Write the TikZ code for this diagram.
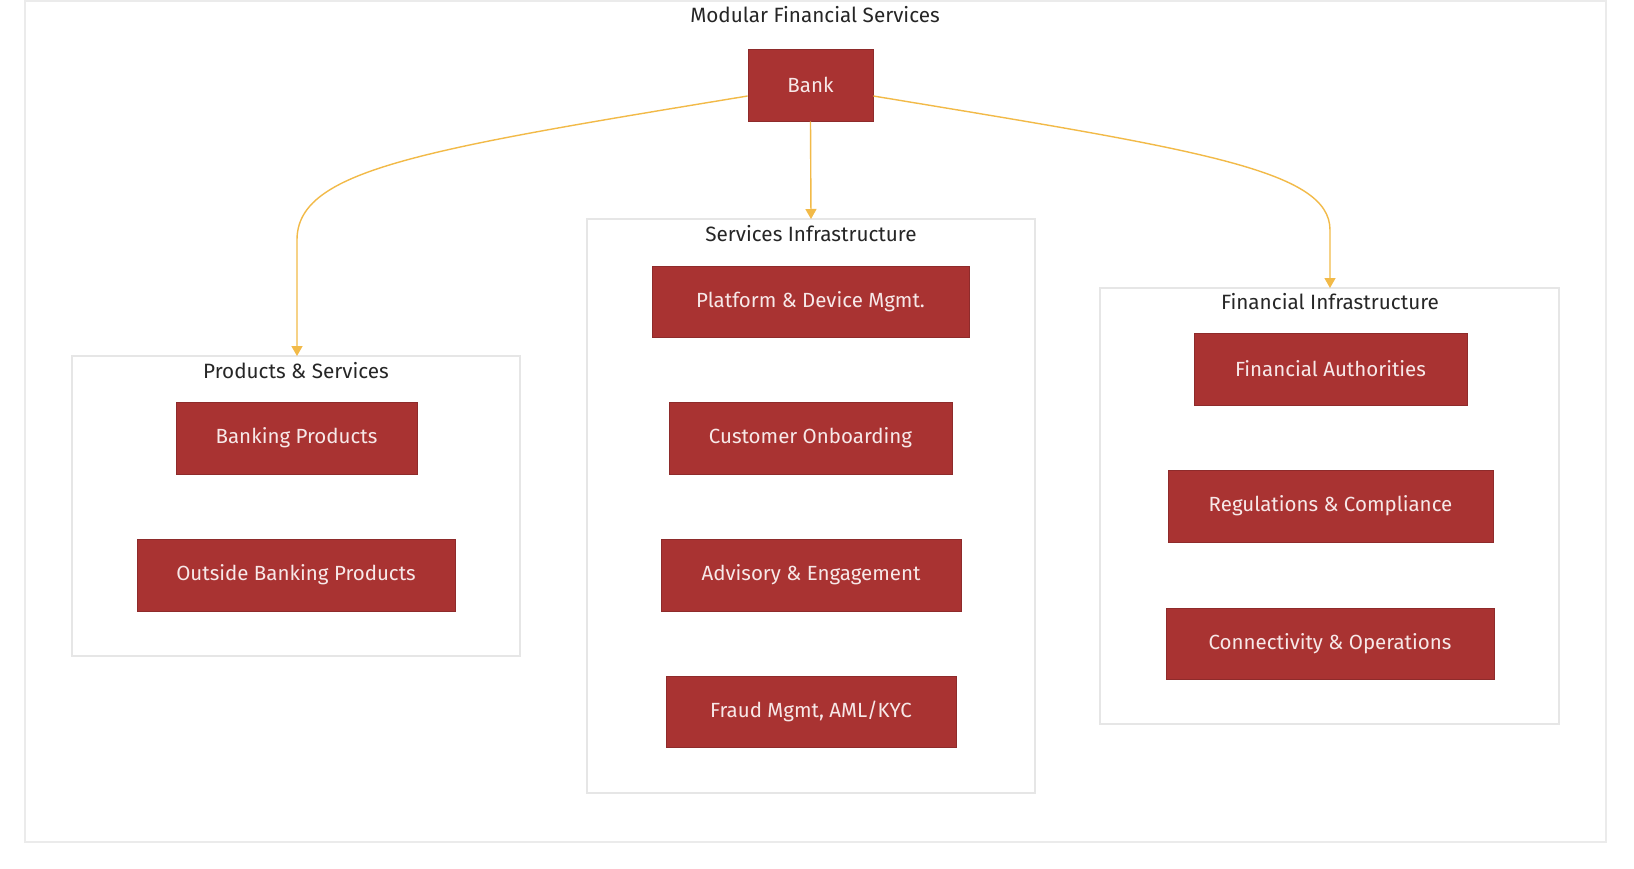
\documentclass[tikz,border=0pt]{standalone}
\usepackage{fontspec}
\setmainfont{Fira Sans}
\usetikzlibrary{arrows.meta}
\definecolor{boxfill}{HTML}{A93332}
\definecolor{boxline}{HTML}{8E2B2B}
\definecolor{boxtext}{HTML}{F7E8E8}
\definecolor{edgecol}{HTML}{F2BA48}
\definecolor{clusterline}{HTML}{E6E6E6}
\tikzset{
  box/.style={draw=boxline, line width=0.8pt, fill=boxfill, text=boxtext, inner sep=0pt,
    font=\fontsize{20.5}{24}\selectfont},
  ctitle/.style={font=\fontsize{20.7}{24}\selectfont, text=black!85, inner sep=0pt},
  cluster/.style={draw=clusterline, line width=1.2pt},
  edge/.style={draw=edgecol, line width=1.4pt, -{Triangle[length=10pt,width=11pt]}}
}
\begin{document}
\begin{tikzpicture}[x=1pt,y=-1pt]
\useasboundingbox (0,0) rectangle (1634,868);
\fill[white] (0,0) rectangle (1634,868);
% outer frame
\draw[draw=black!8, line width=1.5pt] (25,1) rectangle (1606,842);
\node[ctitle] (title) at (815,15) {Modular Financial Services};
% clusters
\draw[cluster] (587,219) rectangle (1035,793);
\draw[cluster] (72,356) rectangle (520,656);
\draw[cluster] (1100,288) rectangle (1559,724);
\node[ctitle] (svctitle) at (811,234) {Services Infrastructure};
\node[ctitle] (prodtitle) at (296,371) {Products \& Services};
\node[ctitle] (fintitle) at (1330,302) {Financial Infrastructure};
\coordinate (svctop) at (811,219);
\coordinate (prodtop) at (297,356);
\coordinate (fintop) at (1330,288);
% nodes
\node[box, minimum width=125, minimum height=72] (bank) at (810.5,85) {Bank};
\node[box, minimum width=317, minimum height=71] (platform) at (810.5,301.5) {Platform \& Device Mgmt.};
\node[box, minimum width=283, minimum height=72] (onboard) at (810.5,438) {Customer Onboarding};
\node[box, minimum width=300, minimum height=72] (advisory) at (811,575) {Advisory \& Engagement};
\node[box, minimum width=290, minimum height=71] (fraud) at (811,711.5) {Fraud Mgmt, AML/KYC};
\node[box, minimum width=241, minimum height=72] (banking) at (296.5,438) {Banking Products};
\node[box, minimum width=318, minimum height=72] (outside) at (296,575) {Outside Banking Products};
\node[box, minimum width=273, minimum height=72] (auth) at (1330.5,369) {Financial Authorities};
\node[box, minimum width=325, minimum height=72] (regs) at (1330.5,506) {Regulations \& Compliance};
\node[box, minimum width=328, minimum height=71] (conn) at (1330,643.5) {Connectivity \& Operations};
% edges
\draw[edge] (bank.south) -- (svctop);
\draw[edge] ([yshift=-11]bank.west) .. controls (420,150) and (297,170) .. (297,240) -- (prodtop);
\draw[edge] ([yshift=-11]bank.east) .. controls (1200,150) and (1330,170) .. (1330,230) -- (fintop);
\end{tikzpicture}
\end{document}
